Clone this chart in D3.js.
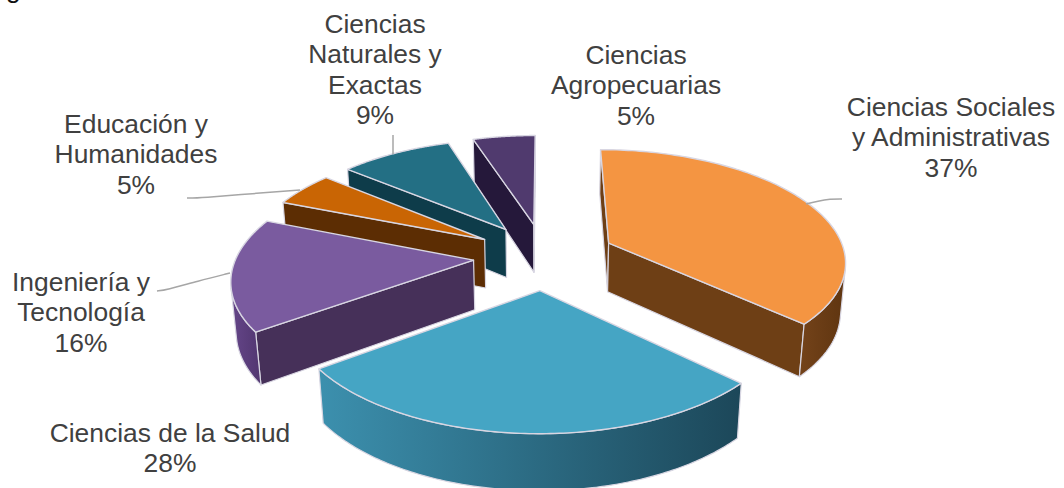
<!DOCTYPE html>
<html>
<head>
<meta charset="utf-8">
<script src="https://cdn.jsdelivr.net/npm/d3@7"></script>
<style>
  html, body { margin: 0; padding: 0; background: #fff; }
  svg { display: block; }
  text { font-family: "Liberation Sans", Arial, sans-serif; font-size: 26.4px; fill: #404040; }
</style>
</head>
<body>
<svg id="chart" width="1064" height="488"></svg>
<script>
// clockwise from 12 o'clock
let categories = ['Ciencias Sociales y Administrativas', 'Ciencias de la Salud', 'Ingeniería y Tecnología',
                  'Educación y Humanidades', 'Ciencias Naturales y Exactas', 'Ciencias Agropecuarias']
let values = [37, 28, 16, 5, 9, 5]

let topColors = ['#f49542', '#45a5c4', '#7a5b9f', '#c96504', '#236f84', '#503a6e']
let faceColors = ['#6e3f15', '#1f4f62', '#463059', '#5c2d03', '#0e3c4a', '#25183a']
let rimFrom = ['#74431a', '#3c90ae', '#654689', '#6b3605', '#14505f', '#2d1d45']
let rimTo = ['#5f3510', '#1c4759', '#513670', '#5c2d03', '#0e3c4a', '#25183a']

// label lines and where they sit
let labelLines = [
    ['Ciencias Sociales', 'y Administrativas', '37%'],
    ['Ciencias de la Salud', '28%'],
    ['Ingeniería y', 'Tecnología', '16%'],
    ['Educación y', 'Humanidades', '5%'],
    ['Ciencias', 'Naturales y', 'Exactas', '9%'],
    ['Ciencias', 'Agropecuarias', '5%']
]
let labelX = [951, 170, 81, 136, 375, 636]
let labelY = [107, 433, 282, 124, 24, 55]
let lineGap = 30.4

let leaders = [
    [[806, 204], [818, 201], [830, 199], [842, 199]],
    [[157, 291], [166, 290], [198, 281], [230, 273]],
    [[187, 198], [200, 198], [260, 193], [300, 190]],
    [[393, 135], [393, 142], [393, 148], [393, 154]]
]

let svg = d3.select('#chart')
let defs = svg.append('defs')

// perspective of the pie plane, fitted to the picture
let centerX = 544.5
let perspective = 0.147
let thickness = 54.5
let thicknessW = 0.017
let explode = 0.3
let xScale = d3.scaleLinear().domain([-1, 1]).range([-237, 237])
let yScale = d3.scaleLinear().domain([-1, 1]).range([329, 183])

let project = (x, y, down) => {
    let w = 1 + perspective * y + (down ? thicknessW : 0)
    return [centerX + xScale(x) / w, (yScale(y) + (down ? thickness : 0)) / w]
}

let area = (pts) => {
    let sum = 0
    pts.forEach((p, i) => {
        let q = pts[(i + 1) % pts.length]
        sum += p[0] * q[1] - q[0] * p[1]
    })
    return sum
}

let closed = d3.line().curve(d3.curveLinearClosed)
let arcs = d3.pie().sort(null).value(d => d)(values)

let slices = arcs.map((arc, i) => {
    let mid = (arc.startAngle + arc.endAngle) / 2
    let ox = explode * Math.sin(mid)
    let oy = explode * Math.cos(mid)
    let rim = (a, down) => project(ox + Math.sin(a), oy + Math.cos(a), down)
    let apex = (down) => project(ox, oy, down)
    return { i, arc, oy, rim, apex }
})

// far slices first
slices.sort((a, b) => b.oy - a.oy)

let edge = '#d8d6e2'

slices.forEach((s) => {
    let g = svg.append('g').attr('class', 'slice').attr('data-name', categories[s.i])
    let steps = d3.range(0, 121).map(k => s.arc.startAngle + (s.arc.endAngle - s.arc.startAngle) * k / 120)

    let startFace = [s.apex(false), s.rim(s.arc.startAngle, false), s.rim(s.arc.startAngle, true), s.apex(true)]
    let endFace = [s.apex(false), s.rim(s.arc.endAngle, false), s.rim(s.arc.endAngle, true), s.apex(true)]

    if (area(startFace) < 0) {
        g.append('path').attr('d', closed(startFace)).attr('fill', faceColors[s.i])
            .attr('stroke', edge).attr('stroke-width', 1.2).attr('stroke-linejoin', 'round')
    }
    if (area(endFace) > 0) {
        g.append('path').attr('d', closed(endFace)).attr('fill', faceColors[s.i])
            .attr('stroke', edge).attr('stroke-width', 1.2).attr('stroke-linejoin', 'round')
    }

    // outer wall, only the part turned to the viewer
    let visible = []
    for (let k = 0; k < steps.length - 1; k++) {
        let quad = [s.rim(steps[k], false), s.rim(steps[k + 1], false), s.rim(steps[k + 1], true), s.rim(steps[k], true)]
        if (area(quad) < 0) {
            visible.push(steps[k], steps[k + 1])
        }
    }
    if (visible.length) {
        let grad = defs.append('linearGradient').attr('id', 'rim' + s.i)
        grad.append('stop').attr('offset', '0%').attr('stop-color', rimFrom[s.i])
        grad.append('stop').attr('offset', '100%').attr('stop-color', rimTo[s.i])
        let wall = visible.map(a => s.rim(a, false)).concat(visible.slice().reverse().map(a => s.rim(a, true)))
        g.append('path').attr('d', closed(wall)).attr('fill', 'url(#rim' + s.i + ')')
            .attr('stroke', edge).attr('stroke-width', 1.2).attr('stroke-linejoin', 'round')
    }

    let top = [s.apex(false)].concat(steps.map(a => s.rim(a, false)))
    g.append('path').attr('d', closed(top)).attr('fill', topColors[s.i])
        .attr('stroke', edge).attr('stroke-width', 1.4).attr('stroke-linejoin', 'round')
})

// leader lines
let leaderLine = d3.line().curve(d3.curveBasis)
svg.selectAll('path.leader')
    .data(leaders)
    .enter()
    .append('path')
    .attr('class', 'leader')
    .attr('d', d => leaderLine(d))
    .attr('fill', 'none')
    .attr('stroke', '#a6a6a6')
    .attr('stroke-width', 1.5)

// labels
labelLines.forEach((lines, i) => {
    let t = svg.append('text').attr('text-anchor', 'middle')
    lines.forEach((line, n) => {
        t.append('tspan')
            .attr('x', labelX[i])
            .attr('y', labelY[i] + n * lineGap + 9)
            .text(line)
    })
})

// piece of a heading cut off by the top of the picture
svg.append('text').attr('x', 6).attr('y', -2.5).style('fill', '#111').text('g')
</script>
</body>
</html>
